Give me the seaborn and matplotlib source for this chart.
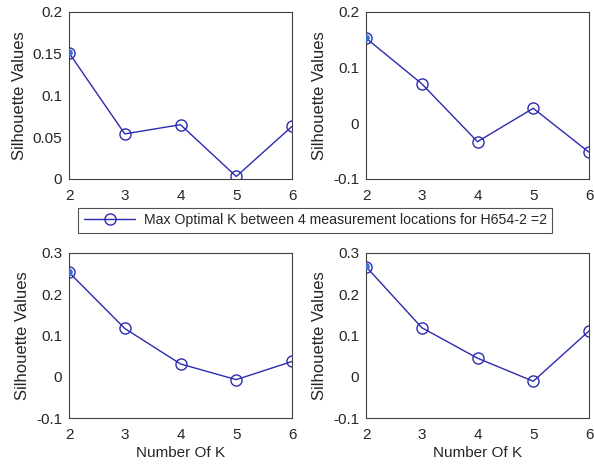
import numpy as np
import pandas as pd
import matplotlib
matplotlib.use("Agg")
import matplotlib.pyplot as plt
import seaborn as sns
from matplotlib.lines import Line2D

k_values = [2, 3, 4, 5, 6]
sil_loc1 = [0.151, 0.054, 0.065, 0.003, 0.063]
sil_loc2 = [0.153, 0.071, -0.033, 0.027, -0.052]
sil_loc3 = [0.253, 0.117, 0.031, -0.007, 0.037]
sil_loc4 = [0.267, 0.119, 0.045, -0.011, 0.111]
ylims = [(0, 0.2), (-0.1, 0.2), (-0.1, 0.3), (-0.1, 0.3)]
yticks = [[0, 0.05, 0.1, 0.15, 0.2], [-0.1, 0, 0.1, 0.2],
          [-0.1, 0, 0.1, 0.2, 0.3], [-0.1, 0, 0.1, 0.2, 0.3]]
ytick_labels = [["0", "0.05", "0.1", "0.15", "0.2"], ["-0.1", "0", "0.1", "0.2"],
                ["-0.1", "0", "0.1", "0.2", "0.3"], ["-0.1", "0", "0.1", "0.2", "0.3"]]
legend_label = "Max Optimal K between 4 measurement locations for H654-2 =2"
xlabel = "Number Of K"
ylabel = "Silhouette Values"

sns.set_theme(style="white")
plt.rcParams['font.family'] = ['Liberation Sans', 'DejaVu Sans']

fig = plt.figure(figsize=(5.94, 4.75), dpi=100)
positions = [
    [0.1162, 0.6232, 0.3754, 0.3516],
    [0.6162, 0.6232, 0.3754, 0.3516],
    [0.1162, 0.1200, 0.3754, 0.3474],
    [0.6162, 0.1200, 0.3754, 0.3474],
]
series = [sil_loc1, sil_loc2, sil_loc3, sil_loc4]
line_color = "#2b2bb0"
text_color = "#262626"

for i, (pos, vals) in enumerate(zip(positions, series)):
    ax = fig.add_axes(pos)
    df = pd.DataFrame({"k": k_values, "s": vals})
    sns.lineplot(data=df, x="k", y="s", ax=ax, color=line_color, lw=1.0,
                 marker="o", markersize=8, markerfacecolor="none",
                 markeredgecolor=line_color, markeredgewidth=1.0)
    # highlight the optimal (max) point
    imax = int(np.argmax(vals))
    sns.scatterplot(x=[k_values[imax]], y=[vals[imax]], ax=ax, s=30,
                    color="#3a6fd8", edgecolor="none", zorder=5, legend=False)
    ax.set_xlim(2, 6)
    ax.set_ylim(*ylims[i])
    ax.set_xticks(k_values)
    ax.set_xticklabels([str(k) for k in k_values])
    ax.set_yticks(yticks[i])
    ax.set_yticklabels(ytick_labels[i])
    ax.tick_params(labelsize=11, colors=text_color, length=0)
    ax.tick_params(axis="x", pad=7)
    ax.tick_params(axis="y", pad=5)
    for sp in ax.spines.values():
        sp.set_visible(True)
        sp.set_color("#404040")
        sp.set_linewidth(0.8)
    ax.set_ylabel(ylabel, fontsize=12, color=text_color, labelpad=4)
    if i >= 2:
        ax.set_xlabel(xlabel, fontsize=11, color=text_color, labelpad=3)
    else:
        ax.set_xlabel("")
    for lbl in ax.get_xticklabels() + ax.get_yticklabels():
        lbl.set_color(text_color)

handle = Line2D([], [], color=line_color, lw=1.0, marker="o", markersize=8,
                markerfacecolor="none", markeredgecolor=line_color)
leg = fig.legend([handle], [legend_label], loc="center",
                 bbox_to_anchor=(0.531, 0.536), fontsize=10.2, frameon=True,
                 fancybox=False, edgecolor="#262626", handlelength=3.6,
                 borderpad=0.4, handletextpad=0.6, borderaxespad=0)
leg.get_frame().set_linewidth(0.8)
for t in leg.get_texts():
    t.set_color(text_color)

fig.savefig("out.png", dpi=100)
